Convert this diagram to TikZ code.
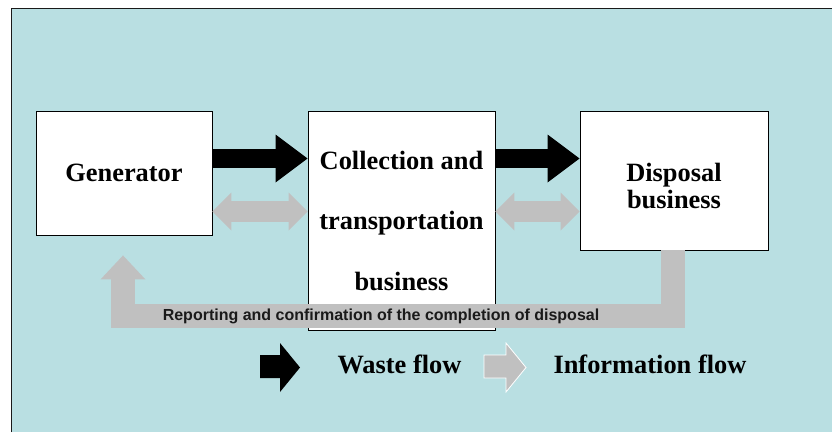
\documentclass[tikz,border=0pt]{standalone}
\usepackage{fontspec}
\setmainfont{Liberation Serif}
\setsansfont{Liberation Sans}
\usetikzlibrary{arrows.meta}
\definecolor{sky}{HTML}{B9DFE2}
\definecolor{info}{HTML}{C0C0C0}
\definecolor{ink}{HTML}{1A1A1A}
\tikzset{
  frame/.style={draw=ink, line width=0.9pt},
  box/.style={draw=black, fill=white, line width=0.9pt, inner sep=0pt, align=center,
    font=\bfseries\fontsize{26.4}{27}\selectfont},
  waste/.style={draw=black, line width=19pt,
    -{Triangle[length=32pt,width=48pt,line width=0pt]}},
  infoarr/.style={draw=info, line width=21pt,
    {Triangle[length=19pt,width=38pt,line width=0pt]}-{Triangle[length=19pt,width=38pt,line width=0pt]}},
  report/.style={draw=info, line width=24pt, line join=miter,
    -{Triangle[length=24pt,width=45pt,line width=0pt]}},
  replab/.style={text=ink, font=\sffamily\bfseries\fontsize{16}{18}\selectfont},
  keylab/.style={anchor=base west, font=\bfseries\fontsize{26.4}{28}\selectfont},
}
\begin{document}
\begin{tikzpicture}[x=1pt,y=-1pt]
  \useasboundingbox (0,0) rectangle (832,432);
  \fill[sky] (11,8) rectangle (832,432);
  \draw[frame] (11,432) -- (11,8) -- (832,8);

  \node[box, minimum width=176pt, minimum height=124pt] (gen) at (124,173) {Generator};
  \node[box, minimum width=187pt, minimum height=219pt,
    font=\bfseries\fontsize{26.4}{60.5}\selectfont] (coll) at (401.5,220.5)
    {Collection and\\transportation\\business};
  \node[box, minimum width=188pt, minimum height=139pt] (disp) at (674,180.5)
    {\rule{0pt}{30pt}Disposal\\business};

  \coordinate (wasteY) at (0,158.5);
  \coordinate (infoY) at (0,211.5);
  \coordinate (repY) at (0,315.5);
  \coordinate (repX) at (672.5,0);
  \coordinate (upX) at (123,0);

  \draw[waste] (gen.east |- wasteY) -- (coll.west |- wasteY);
  \draw[waste] (coll.east |- wasteY) -- (disp.west |- wasteY);
  \draw[infoarr] (gen.east |- infoY) -- (coll.west |- infoY);
  \draw[infoarr] (coll.east |- infoY) -- (disp.west |- infoY);

  \draw[report] (disp.south -| repX) -- (repX |- repY) -- (upX |- repY)
    -- ([yshift=-20pt]gen.south -| upX);
  \node[replab] (replabel) at (381,316) {Reporting and confirmation of the completion of disposal};

  \fill[black] (260,355) -- (280,355) -- (280,343) -- (300,367.5) -- (280,392) -- (280,378) -- (260,378) -- cycle;
  \node[keylab] (wastekey) at (334,373) {Waste flow};
  \filldraw[fill=info, draw=white, line width=0.8pt] (484,355) -- (506,355) -- (506,343) -- (526,367.5)
    -- (506,392) -- (506,378) -- (484,378) -- cycle;
  \node[keylab] (infokey) at (550,373) {Information flow};
\end{tikzpicture}
\end{document}
